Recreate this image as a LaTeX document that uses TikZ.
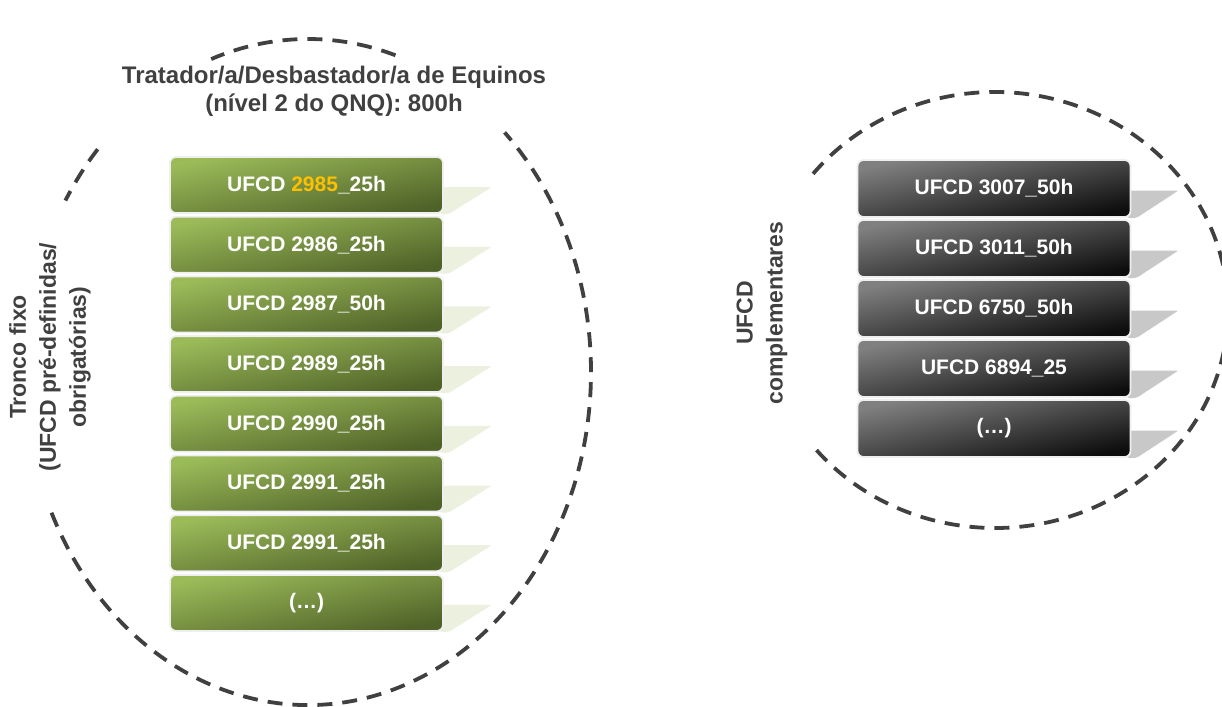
\documentclass[tikz,border=0pt]{standalone}
\usepackage{fontspec}
\setmainfont{Liberation Sans}
\usetikzlibrary{backgrounds,calc}

\definecolor{gLight}{HTML}{9BBB59}
\definecolor{gDark}{HTML}{4F6228}
\definecolor{gTab}{HTML}{EBF1DE}
\definecolor{kLight}{HTML}{808080}
\definecolor{kDark}{HTML}{0D0D0D}
\definecolor{kTab}{HTML}{C8C8C8}
\definecolor{ink}{HTML}{404040}
\definecolor{hl}{HTML}{FFC000}
\definecolor{rim}{HTML}{EFEFEF}

\begin{document}
\begin{tikzpicture}[x=1pt,y=-1pt,
  ring/.style={draw=ink, line width=3.8pt, dash pattern=on 15pt off 10pt},
  unitbox/.style={rounded corners=6pt, draw=rim, line width=1.8pt,
    minimum width=273pt, inner sep=0pt, text=white,
    font=\fontsize{21}{24}\selectfont\bfseries},
  greenbox/.style={unitbox, minimum height=56pt,
    top color=gLight, bottom color=gDark, shading angle=12},
  greybox/.style={unitbox, minimum height=57pt,
    top color=kLight, bottom color=kDark, shading angle=12},
  heading/.style={text=ink, align=center, inner sep=0pt,
    font=\fontsize{24}{28}\selectfont\bfseries},
  sidelabel/.style={text=ink, align=center, inner sep=0pt, rotate=90,
    font=\fontsize{23}{30}\selectfont\bfseries},
  tab/.style={rounded corners=2pt}
]
\useasboundingbox (0,0) rectangle (1222,706);

% dashed outlines of the two groups, open where the headings sit
\coordinate (L) at (308,372);
\coordinate (R) at (995,310);
\draw[ring] (L) ++(72:283pt and 333pt)
  arc[start angle=72, end angle=110, x radius=283pt, y radius=333pt];
\draw[ring] (L) ++(138:283pt and 333pt)
  arc[start angle=138, end angle=149, x radius=283pt, y radius=333pt];
\draw[ring] (L) ++(205:283pt and 333pt)
  arc[start angle=205, end angle=406, x radius=283pt, y radius=333pt];
\draw[ring] (R) ++(220:233pt and 218pt)
  arc[start angle=220, end angle=503, x radius=233pt, y radius=218pt];

% headings
\node[heading] (title) at (334,91)
  {Tratador/a/Desbastador/a de Equinos\\(nível 2 do QNQ): 800h};
\node[sidelabel] (fixo) at (50,357)
  {Tronco fixo\\(UFCD pré-definidas/\\obrigatórias)};
\node[sidelabel] (comp) at (762,313) {UFCD\\complementares};

% fixed trunk units
\foreach \i/\txt in {1/{UFCD \textcolor{hl}{2985}\_25h},
                     2/{UFCD 2986\_25h},
                     3/{UFCD 2987\_50h},
                     4/{UFCD 2989\_25h},
                     5/{UFCD 2990\_25h},
                     6/{UFCD 2991\_25h},
                     7/{UFCD 2991\_25h},
                     8/{(…)}}
  \node[greenbox] (g\i) at (306.5,{185+(\i-1)*59.7}) {\txt};

% complementary units
\foreach \i/\txt in {1/{UFCD 3007\_50h},
                     2/{UFCD 3011\_50h},
                     3/{UFCD 6750\_50h},
                     4/{UFCD 6894\_25},
                     5/{(…)}}
  \node[greybox] (k\i) at (994,{188.5+(\i-1)*60}) {\txt};

% side tabs behind the units
\begin{scope}[on background layer]
  \foreach \i in {1,...,8}
    \fill[gTab, tab] ($(g\i.east)+(-4,2)$) -- ($(g\i.east)+(48,2)$)
      -- ($(g\i.east)+(5,29)$) -- ($(g\i.east)+(-4,29)$) -- cycle;
  \foreach \i in {1,...,5}
    \fill[kTab, tab] ($(k\i.east)+(-4,2)$) -- ($(k\i.east)+(47,2)$)
      -- ($(k\i.east)+(5,29.5)$) -- ($(k\i.east)+(-4,29.5)$) -- cycle;
\end{scope}
\end{tikzpicture}
\end{document}
